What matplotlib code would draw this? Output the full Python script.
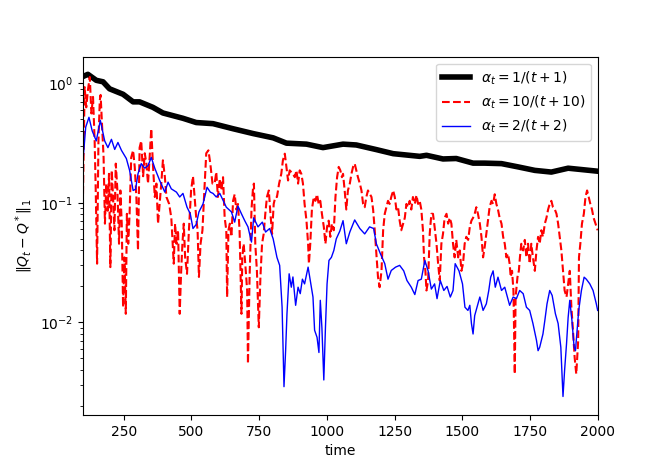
import matplotlib
matplotlib.use("Agg")
import matplotlib.pyplot as plt

# ---- data ----
black_t = [100, 118, 149, 174, 198, 248, 285, 309, 358, 395, 469, 518, 580,
           654, 728, 802, 851, 925, 986, 1060, 1109, 1183, 1245, 1343, 1368,
           1429, 1478, 1540, 1583, 1645, 1706, 1768, 1829, 1891, 1940, 2000]
black_v = [1.14, 1.19, 1.06, 1.03, 0.90, 0.81, 0.70, 0.70, 0.63, 0.565, 0.51, 0.47, 0.46,
           0.417, 0.38, 0.35, 0.316, 0.31, 0.29, 0.31, 0.305, 0.279, 0.258, 0.245, 0.25,
           0.233, 0.235, 0.215, 0.215, 0.213, 0.20, 0.187, 0.181, 0.195, 0.19, 0.184]

red_t = [100, 106, 112, 118, 125, 131, 137, 143, 147, 152, 157, 162, 165, 170, 176, 181,
         186, 191, 196, 201, 206, 211, 216, 221, 227, 233, 238, 243, 248, 253, 258, 262,
         267, 272, 278, 285, 291, 297, 303, 309, 315, 322, 328, 334, 340, 346, 352, 358,
         365, 371, 377, 383, 389, 395, 402, 408, 418, 426, 435, 440, 445, 451, 457, 462,
         467, 472, 477, 484, 491, 499, 506, 514, 518, 523, 528, 534, 541, 548, 555, 563,
         570, 578,
         586, 592, 598, 605, 611, 617, 623, 629, 632, 637, 642, 648, 654, 660, 666, 672,
         678, 685, 688, 693, 699, 706, 709, 715, 722, 728, 731, 736, 742, 749, 755, 761,
         767, 773, 779, 786, 792, 798, 804, 810, 816, 824, 832, 838, 845, 851, 857, 863,
         875, 882, 888, 894, 900, 906, 912, 918, 925, 931, 934, 939, 945, 952, 958, 964,
         970, 976, 982, 989, 995, 1001, 1007, 1013, 1019, 1026, 1032, 1038, 1044, 1050, 1056,
         1060, 1066, 1072, 1078, 1085, 1091, 1097, 1103, 1109, 1115, 1122, 1128, 1134, 1140,
         1146, 1152, 1158, 1165, 1171, 1177, 1183, 1189, 1195, 1202, 1208, 1214, 1220, 1226,
         1232, 1238, 1245, 1251, 1257, 1263, 1269, 1275, 1282, 1288, 1294, 1300, 1306, 1312,
         1318, 1325, 1331, 1337, 1343, 1349, 1355, 1359, 1364, 1368, 1374, 1380, 1386, 1392,
         1398, 1405, 1411, 1417, 1423, 1429, 1435, 1442, 1448, 1454, 1460, 1466, 1472, 1478,
         1485, 1491, 1497, 1503, 1509, 1515, 1522, 1528, 1534, 1540, 1546, 1552, 1558, 1565,
         1571, 1577, 1583, 1589, 1595, 1601, 1608, 1614, 1620, 1626, 1632, 1638, 1645, 1651,
         1657, 1663, 1669, 1675, 1679, 1684, 1689, 1694, 1697, 1704, 1709, 1713, 1718, 1725,
         1731, 1737, 1743, 1749, 1755, 1761, 1768, 1774, 1780, 1786, 1792, 1798, 1805, 1811,
         1817, 1823, 1829, 1835, 1842, 1848, 1854, 1860, 1866, 1872, 1878, 1885, 1891, 1897,
         1903, 1909, 1915, 1921, 1928, 1931, 1936, 1942, 1949, 1955, 1961, 1967, 1973, 1979,
         1985, 1992, 2000]
red_v = [0.119, 0.93, 0.63, 0.87, 1.13, 0.56, 0.77, 0.33, 0.127, 0.031, 0.33, 0.72, 0.80, 0.46, 0.24, 0.067,
         0.145, 0.086, 0.175, 0.029, 0.187, 0.112, 0.059, 0.213, 0.127, 0.0455, 0.127, 0.067, 0.0134, 0.035, 0.0118, 0.081,
         0.0455, 0.081, 0.24, 0.275, 0.20, 0.112, 0.040, 0.29, 0.33, 0.167, 0.26, 0.213, 0.145, 0.24, 0.417, 0.213,
         0.112, 0.145, 0.067, 0.098, 0.145, 0.227, 0.167, 0.112, 0.098, 0.075, 0.031, 0.067, 0.0455, 0.059, 0.0118, 0.0255,
         0.0455, 0.067, 0.035, 0.0255, 0.059, 0.127, 0.167, 0.098, 0.075, 0.059, 0.024, 0.0455, 0.059, 0.127, 0.26, 0.275,
         0.213, 0.145,
         0.145, 0.181, 0.112, 0.159, 0.127, 0.164, 0.075, 0.059, 0.0163, 0.059, 0.067, 0.052, 0.104, 0.118, 0.088, 0.098,
         0.059, 0.0118, 0.035, 0.0455, 0.031, 0.0185, 0.0045, 0.024, 0.088, 0.136, 0.145, 0.0455, 0.027, 0.0091, 0.024, 0.0455,
         0.055, 0.081, 0.112, 0.127, 0.081, 0.055, 0.098, 0.112, 0.112, 0.145, 0.175, 0.227, 0.258, 0.20, 0.154, 0.187,
         0.175, 0.164, 0.187, 0.145, 0.187, 0.175, 0.145, 0.098, 0.071, 0.0455, 0.031, 0.0455, 0.088, 0.112, 0.104, 0.118,
         0.098, 0.104, 0.081, 0.063, 0.0455, 0.063, 0.071, 0.052, 0.067, 0.059, 0.112, 0.164, 0.20, 0.187, 0.164,
         0.175, 0.127, 0.088, 0.127, 0.145, 0.175, 0.20, 0.213, 0.187, 0.164, 0.145, 0.127, 0.098, 0.092,
         0.112, 0.127, 0.12, 0.112, 0.088, 0.059, 0.0375, 0.024, 0.0197, 0.027, 0.059, 0.081, 0.092, 0.104,
         0.098, 0.112, 0.127, 0.112, 0.088, 0.092, 0.071, 0.059, 0.067, 0.075, 0.098, 0.092, 0.104, 0.088,
         0.112, 0.098, 0.116, 0.098, 0.104, 0.088, 0.059, 0.035, 0.027, 0.0185, 0.0224, 0.055, 0.081, 0.081,
         0.063, 0.0455, 0.031, 0.0224, 0.0455, 0.055, 0.075, 0.081, 0.067, 0.075, 0.067, 0.0455, 0.035, 0.049,
         0.035, 0.040, 0.027, 0.031, 0.0455, 0.052, 0.049, 0.063, 0.071, 0.075, 0.081, 0.092, 0.081, 0.067,
         0.052, 0.035, 0.043, 0.055, 0.071, 0.092, 0.104, 0.098, 0.118, 0.098, 0.088, 0.075, 0.067, 0.052,
         0.0455, 0.035, 0.0375, 0.031, 0.024, 0.027, 0.0185, 0.0037, 0.0163, 0.024, 0.027, 0.035, 0.0455, 0.040,
         0.049, 0.035, 0.0455, 0.031, 0.0455, 0.035, 0.027, 0.040, 0.052, 0.0455, 0.059, 0.052, 0.067, 0.075,
         0.088, 0.098, 0.104, 0.092, 0.088, 0.081, 0.067, 0.052, 0.040, 0.027, 0.0185, 0.0163, 0.021, 0.027,
         0.0134, 0.0085, 0.0051, 0.0037, 0.0070, 0.035, 0.0455, 0.067, 0.081, 0.112, 0.127, 0.112, 0.098, 0.088,
         0.075, 0.067, 0.059]

blue_t = [100, 110, 122, 134, 149, 164, 180, 192, 205, 217, 229, 242, 260, 272, 285, 294,
          303, 315, 328, 340, 352, 365, 383, 402, 414, 426, 445, 457, 469, 484, 496, 506,
          518, 528, 543, 558, 570, 580,
          592, 605, 617, 629, 648, 660, 672, 685, 697, 709, 722, 730, 746, 762, 774, 789,
          802, 816, 826, 835, 842, 848, 853, 861, 869, 875, 885, 894, 902, 910, 918, 931,
          939, 949, 955, 964, 971, 976, 982, 989, 995, 1001, 1008, 1017, 1026, 1035, 1048,
          1060, 1072, 1085, 1103, 1122, 1140, 1158, 1173, 1183, 1198, 1214, 1226, 1238, 1254,
          1269, 1284, 1296, 1312, 1325, 1337, 1349, 1362, 1374, 1386, 1398, 1407, 1419, 1432,
          1444, 1456, 1466, 1474, 1488, 1501, 1510, 1521, 1528, 1534, 1540, 1546, 1558, 1565,
          1577, 1589, 1598, 1605, 1614, 1622, 1632, 1645, 1657, 1675, 1688, 1700, 1712, 1725,
          1737, 1749, 1761, 1774, 1780, 1786, 1798, 1805, 1813, 1823, 1832, 1844, 1854, 1864,
          1872, 1878, 1885, 1891, 1897, 1905, 1913, 1918, 1925, 1930, 1940, 1950, 1958, 1971,
          1983, 1995, 2000]
blue_v = [0.227, 0.43, 0.52, 0.40, 0.33, 0.49, 0.33, 0.29, 0.34, 0.28, 0.32, 0.275, 0.235, 0.187, 0.127, 0.13,
          0.175, 0.213, 0.195, 0.205, 0.24, 0.195, 0.154, 0.123, 0.149, 0.131, 0.123, 0.112, 0.12, 0.092, 0.081, 0.061,
          0.066, 0.084, 0.098, 0.135, 0.123, 0.12,
          0.112, 0.12, 0.105, 0.092, 0.084, 0.069, 0.094, 0.081, 0.071, 0.063, 0.047, 0.075, 0.063, 0.069, 0.057, 0.061,
          0.050, 0.035, 0.030, 0.0134, 0.0029, 0.0058, 0.0118, 0.0255, 0.0197, 0.024, 0.0139, 0.0197, 0.0174, 0.023, 0.021, 0.029,
          0.0225, 0.0163, 0.0086, 0.0075, 0.0056, 0.0153, 0.009, 0.0033, 0.009, 0.021, 0.033, 0.035, 0.040, 0.050, 0.058,
          0.071, 0.0455, 0.057, 0.072, 0.061, 0.055, 0.063, 0.061, 0.0455, 0.0375, 0.031, 0.023, 0.0272, 0.029,
          0.030, 0.027, 0.0224, 0.0197, 0.0171, 0.0224, 0.023, 0.033, 0.027, 0.019, 0.021, 0.0158, 0.0224, 0.0185,
          0.020, 0.0163, 0.0185, 0.031, 0.027, 0.021, 0.0134, 0.0126, 0.0139, 0.0098, 0.0080, 0.0114, 0.0143, 0.0163,
          0.0126, 0.0143, 0.0185, 0.0239, 0.027, 0.0197, 0.0239, 0.0185, 0.0197, 0.0139, 0.0163, 0.0158, 0.0185, 0.0174,
          0.0134, 0.0126, 0.0098, 0.0071, 0.0058, 0.0062, 0.0080, 0.0104, 0.0143, 0.0185, 0.0168, 0.0118, 0.0098, 0.0062,
          0.0024, 0.0040, 0.0066, 0.011, 0.0153, 0.0104, 0.0062, 0.0058, 0.0092, 0.0126, 0.0185, 0.0239, 0.023, 0.021,
          0.0185, 0.0143, 0.0126]

labels = [r'$\alpha_t = 1/(t+1)$', r'$\alpha_t = 10/(t+10)$', r'$\alpha_t = 2/(t+2)$']

fig = plt.figure(figsize=(6.64, 4.75), dpi=100)
ax = fig.add_axes([0.125, 0.1263, 0.7751, 0.7543])

ax.plot(black_t, black_v, color='black', lw=4, label=labels[0])
ax.plot(red_t, red_v, color='red', ls='--', lw=1.5, label=labels[1])
ax.plot(blue_t, blue_v, color='blue', lw=1, label=labels[2])

ax.set_yscale('log')
ax.set_xlim(100, 2000)
ax.set_ylim(0.00168, 1.67)
ax.set_xticks([250, 500, 750, 1000, 1250, 1500, 1750, 2000])
ax.set_xlabel('time')
ax.set_ylabel(r'$\|Q_t - Q^*\|_1$')
ax.legend(loc='upper right')

fig.savefig('out.png', dpi=100)
